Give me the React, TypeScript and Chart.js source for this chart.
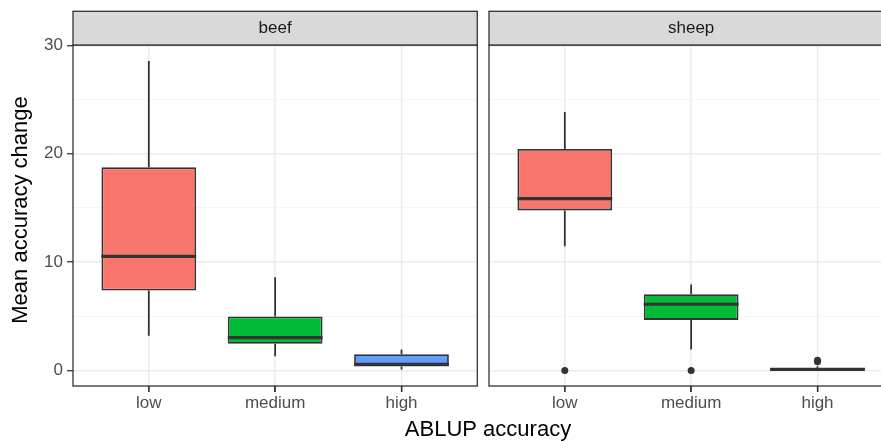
import React, { useEffect, useRef } from 'react';
import { Chart, registerables } from 'chart.js';

Chart.register(...registerables);

const categories = ['low', 'medium', 'high'];
const facets = ['beef', 'sheep'];
const fillColors = ['#F8766D', '#00BA38', '#619CFF'];

const beefWhiskerLow = [3.2, 1.32, 0.1];
const beefQ1 = [7.37, 2.46, 0.37];
const beefMedian = [10.53, 3.04, 0.57];
const beefQ3 = [18.74, 4.98, 1.5];
const beefWhiskerHigh = [28.55, 8.6, 1.94];
const beefOutliers: number[][] = [[], [], []];

const sheepWhiskerLow = [11.46, 1.94, 0.0];
const sheepQ1 = [14.77, 4.67, 0.0];
const sheepMedian = [15.85, 6.11, 0.1];
const sheepQ3 = [20.43, 7.03, 0.24];
const sheepWhiskerHigh = [23.84, 7.93, 0.4];
const sheepOutliers: number[][] = [[0], [0], [0.8, 0.95]];

const yLabelTicks = [0, 10, 20, 30];
const yMin = -1.43;
const yMax = 30.03;
const xTitle = 'ABLUP accuracy';
const yTitle = 'Mean accuracy change';

const FONT = '"Liberation Sans", Arial, Helvetica, sans-serif';

type Facet = {
  name: string;
  wl: number[];
  q1: number[];
  med: number[];
  q3: number[];
  wh: number[];
  out: number[][];
};

const facetData: Facet[] = [
  { name: facets[0], wl: beefWhiskerLow, q1: beefQ1, med: beefMedian, q3: beefQ3, wh: beefWhiskerHigh, out: beefOutliers },
  { name: facets[1], wl: sheepWhiskerLow, q1: sheepQ1, med: sheepMedian, q3: sheepQ3, wh: sheepWhiskerHigh, out: sheepOutliers },
];

function makeConfig(f: Facet, isLeft: boolean, canvasWidth: number): any {
  const panelLeft = isLeft ? 73 : 489;
  const panelWidth = 404.3;
  const padRight = canvasWidth - panelLeft - panelWidth;

  const outlierPoints: { x: number; y: number }[] = [];
  f.out.forEach((arr, i) => arr.forEach((v) => outlierPoints.push({ x: i, y: v })));

  const boxPlugin = {
    id: 'boxExtras' + (isLeft ? 'L' : 'R'),
    beforeDatasetsDraw(chart: any) {
      const { ctx, scales } = chart;
      const xs = scales.x;
      const ys = scales.y;
      ctx.save();
      ctx.strokeStyle = '#333333';
      ctx.lineWidth = 1.8;
      categories.forEach((_, i) => {
        const px = xs.getPixelForValue(i);
        ctx.beginPath();
        ctx.moveTo(px, ys.getPixelForValue(f.wh[i]));
        ctx.lineTo(px, ys.getPixelForValue(f.q3[i]));
        ctx.moveTo(px, ys.getPixelForValue(f.q1[i]));
        ctx.lineTo(px, ys.getPixelForValue(f.wl[i]));
        ctx.stroke();
      });
      ctx.restore();
    },
    afterDatasetsDraw(chart: any) {
      const { ctx, scales } = chart;
      const xs = scales.x;
      const ys = scales.y;
      const meta = chart.getDatasetMeta(0);
      ctx.save();
      ctx.strokeStyle = '#333333';
      ctx.lineWidth = 3.2;
      categories.forEach((_, i) => {
        const el: any = meta.data[i];
        const half = el.width / 2;
        const px = xs.getPixelForValue(i);
        const py = ys.getPixelForValue(f.med[i]);
        ctx.beginPath();
        ctx.moveTo(px - half, py);
        ctx.lineTo(px + half, py);
        ctx.stroke();
      });
      ctx.restore();
    },
    afterDraw(chart: any) {
      const { ctx, chartArea, scales } = chart;
      const { left, right, top, bottom } = chartArea;
      ctx.save();
      ctx.strokeStyle = '#333333';
      ctx.lineWidth = 1.3;
      ctx.strokeRect(left, top, right - left, bottom - top);
      // x tick marks
      ctx.beginPath();
      categories.forEach((_, i) => {
        const px = scales.x.getPixelForValue(i);
        ctx.moveTo(px, bottom);
        ctx.lineTo(px, bottom + 6);
      });
      ctx.stroke();
      const stripTop = 11.3;
      ctx.fillStyle = '#D9D9D9';
      ctx.fillRect(left, stripTop, right - left, top - stripTop);
      ctx.strokeRect(left, stripTop, right - left, top - stripTop);
      ctx.fillStyle = '#1A1A1A';
      ctx.font = '17px ' + FONT;
      ctx.textAlign = 'center';
      ctx.textBaseline = 'middle';
      ctx.fillText(f.name, (left + right) / 2, (stripTop + top) / 2 + 0.5);
      if (isLeft) {
        ctx.fillStyle = '#000000';
        ctx.font = '22px ' + FONT;
        ctx.textAlign = 'center';
        ctx.textBaseline = 'alphabetic';
        ctx.fillText(xTitle, 488, 436);
        ctx.translate(27, 210);
        ctx.rotate(-Math.PI / 2);
        ctx.fillText(yTitle, 0, 0);
      }
      ctx.restore();
    },
  };

  return {
    type: 'bar',
    data: {
      datasets: [
        {
          type: 'bar',
          data: categories.map((_, i) => ({ x: i, y: [f.q1[i], f.q3[i]] })),
          backgroundColor: fillColors,
          borderColor: '#333333',
          borderWidth: 1.8,
          borderSkipped: false,
          barPercentage: 0.75,
          categoryPercentage: 1.0,
        },
        {
          type: 'scatter',
          data: outlierPoints,
          backgroundColor: '#333333',
          borderWidth: 0,
          pointRadius: 3.5,
          showLine: false,
        },
      ],
    },
    options: {
      responsive: false,
      animation: false,
      devicePixelRatio: 1,
      layout: { padding: { left: isLeft ? 0 : panelLeft, top: 45, right: padRight, bottom: 0 } },
      plugins: {
        legend: { display: false },
        tooltip: { enabled: false },
        title: { display: false },
      },
      scales: {
        x: {
          type: 'linear',
          min: -0.6,
          max: 2.6,
          offset: false,
          afterFit(scale: any) {
            scale.height = 55;
          },
          border: { display: false },
          grid: {
            offset: false,
            color: '#EBEBEB',
            lineWidth: 1.5,
            drawTicks: true,
            tickLength: 6,
            tickColor: '#333333',
            tickWidth: 1.3,
          },
          ticks: {
            stepSize: 1,
            includeBounds: false,
            autoSkip: false,
            maxRotation: 0,
            padding: 1,
            color: '#4D4D4D',
            font: { family: FONT, size: 17 },
            callback: (v: number) => (Number.isInteger(v) && categories[v] !== undefined ? categories[v] : ''),
          },
        },
        y: {
          type: 'linear',
          min: yMin,
          max: yMax,
          afterFit(scale: any) {
            scale.width = isLeft ? 73 : 0;
          },
          border: { display: false },
          grid: {
            color: (c: any) => (c.tick && yLabelTicks.includes(c.tick.value) ? '#EBEBEB' : '#F4F4F4'),
            lineWidth: (c: any) => (c.tick && yLabelTicks.includes(c.tick.value) ? 1.5 : 0.9),
            drawTicks: isLeft,
            tickLength: 6,
            tickColor: (c: any) => (c.tick && yLabelTicks.includes(c.tick.value) ? '#333333' : 'rgba(0,0,0,0)'),
            tickWidth: 1.3,
          },
          ticks: {
            display: isLeft,
            stepSize: 5,
            includeBounds: false,
            autoSkip: false,
            padding: 4,
            color: '#4D4D4D',
            font: { family: FONT, size: 17 },
            callback: (v: number) => (yLabelTicks.includes(v) ? String(v) : ''),
          },
        },
      },
    },
    plugins: [boxPlugin],
  };
}

export default function App() {
  const leftRef = useRef<HTMLCanvasElement>(null);
  const rightRef = useRef<HTMLCanvasElement>(null);

  useEffect(() => {
    const charts: Chart[] = [];
    if (leftRef.current) charts.push(new Chart(leftRef.current, makeConfig(facetData[0], true, 881)));
    if (rightRef.current) charts.push(new Chart(rightRef.current, makeConfig(facetData[1], false, 900)));
    return () => charts.forEach((c) => c.destroy());
  }, []);

  return (
    <div
      style={{
        position: 'absolute',
        left: 0,
        top: 0,
        width: 881,
        height: 441,
        overflow: 'hidden',
        background: '#FFFFFF',
      }}
    >
      <canvas
        ref={leftRef}
        width={881}
        height={441}
        style={{ position: 'absolute', left: 0, top: 0, width: 881, height: 441, display: 'block' }}
      />
      <canvas
        ref={rightRef}
        width={900}
        height={441}
        style={{ position: 'absolute', left: 0, top: 0, width: 900, height: 441, display: 'block' }}
      />
    </div>
  );
}
